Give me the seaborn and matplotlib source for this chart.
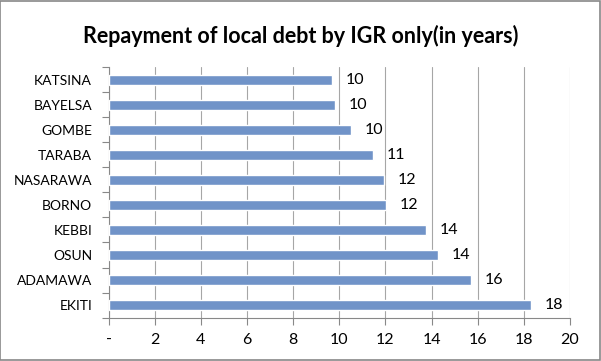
import matplotlib
matplotlib.use("Agg")
import matplotlib.pyplot as plt
import seaborn as sns
import pandas as pd
from matplotlib.ticker import FixedLocator
from matplotlib.patches import Rectangle

states = ["KATSINA", "BAYELSA", "GOMBE", "TARABA", "NASARAWA",
          "BORNO", "KEBBI", "OSUN", "ADAMAWA", "EKITI"]
years = [9.68, 9.8, 10.5, 11.45, 11.92, 12.03, 13.75, 14.27, 15.7, 18.3]
xticks = [0, 2, 4, 6, 8, 10, 12, 14, 16, 18, 20]
xticklabels = ["-", "2", "4", "6", "8", "10", "12", "14", "16", "18", "20"]
title = "Repayment of local debt by IGR only(in years)"

df = pd.DataFrame({"state": states, "years": years})

sns.set_theme(style="white")
plt.rcParams["font.family"] = ["Lato", "DejaVu Sans"]

fig = plt.figure(figsize=(6.01, 3.61), dpi=100)
ax = fig.add_axes([0.1809, 0.12, 0.7675, 0.6944])

sns.barplot(data=df, x="years", y="state", order=states, orient="h",
            color="#7093C8", saturation=1, width=0.4, ax=ax, zorder=3)

ax.set_xlim(0, 20)
ax.set_ylim(9.5, -0.5)
ax.set_xticks(xticks)
ax.set_xticklabels(xticklabels, fontsize=11.5, color="black")
ax.set_xlabel("")
ax.set_ylabel("")
ax.tick_params(axis="y", which="major", length=0, pad=12, labelsize=10, labelcolor="black")
ax.yaxis.set_minor_locator(FixedLocator([i - 0.5 for i in range(len(states) + 1)]))
ax.tick_params(axis="y", which="minor", length=5, width=0.8, color="#888888", direction="out", left=True)
ax.tick_params(axis="x", which="major", length=5, width=0.8, color="#888888", direction="out", bottom=True, pad=6)

ax.grid(axis="x", color="#A6A6A6", linewidth=0.8, zorder=0)
ax.set_axisbelow(True)
for s in ["top", "right"]:
    ax.spines[s].set_visible(False)
for s in ["left", "bottom"]:
    ax.spines[s].set_color("#888888")
    ax.spines[s].set_linewidth(0.8)

for cont in ax.containers:
    ax.bar_label(cont, labels=[f"{v:.0f}" for v in years], padding=10,
                 fontsize=11.5, color="black")

fig.suptitle(title, x=0.5, y=0.93, fontsize=15.5, fontweight="bold", color="black")

fig.patches.append(Rectangle((0.0008, 0.0014), 0.9975, 0.996, transform=fig.transFigure,
                             fill=False, edgecolor="#888888", linewidth=1.2))

fig.savefig("out.png", dpi=100)
